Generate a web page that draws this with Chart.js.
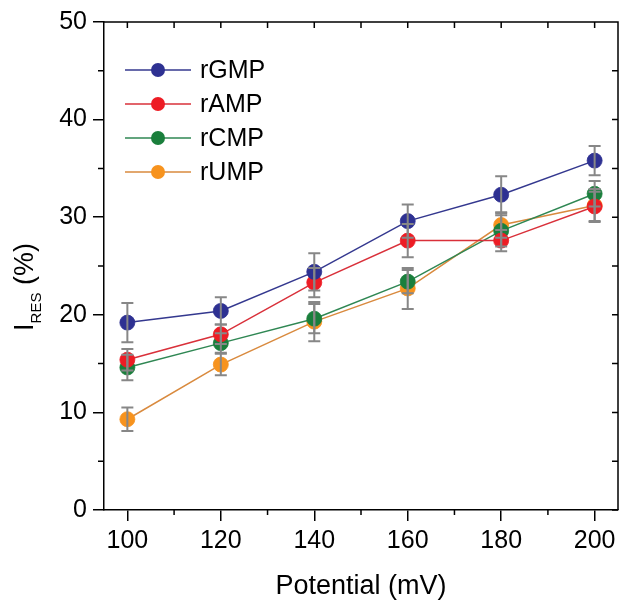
<!DOCTYPE html>
<html>
<head>
<meta charset="utf-8">
<script src="https://cdn.jsdelivr.net/npm/chart.js@4.4.1/dist/chart.umd.min.js"></script>
<style>
html, body { margin: 0; padding: 0; background: #fff; overflow: hidden; }
canvas { display: block; }
</style>
</head>
<body>
<canvas id="myChart" width="621" height="605"></canvas>
<script>
// valori
const potentials = [100, 120, 140, 160, 180, 200];
const rGMP = [19.2, 20.4, 24.4, 29.6, 32.3, 35.8];
const rGMPErr = [2.0, 1.4, 1.9, 1.7, 1.9, 1.5];
const rAMP = [15.4, 18.0, 23.3, 27.6, 27.6, 31.1];
const rAMPErr = [1.1, 1.0, 1.5, 1.7, 1.1, 1.5];
const rCMP = [14.6, 17.1, 19.6, 23.4, 28.6, 32.4];
const rCMPErr = [1.3, 1.0, 1.5, 1.2, 1.6, 1.3];
const rUMP = [9.3, 14.9, 19.3, 22.7, 29.2, 31.2];
const rUMPErr = [1.2, 1.1, 2.0, 2.1, 1.3, 1.7];

const xTicks = [100, 120, 140, 160, 180, 200];
const xMinor = [110, 130, 150, 170, 190];
const yTicks = [0, 10, 20, 30, 40, 50];
const yMinor = [5, 15, 25, 35, 45];

const FONT = 'Arial, "Liberation Sans", sans-serif';

function series(label, values, errs, color, lineColor) {
    return {
        label: label,
        data: potentials.map((x, i) => ({ x: x, y: values[i] })),
        err: errs,
        borderColor: lineColor,
        backgroundColor: color,
        borderWidth: 1.5,
        pointRadius: 7.5,
        pointHoverRadius: 7.5,
        pointBorderWidth: 0.8,
        pointBackgroundColor: color,
        pointBorderColor: color,
        fill: false,
        tension: 0
    };
}

const extras = {
    id: 'extras',
    afterDatasetsDraw(chart) {
        const ctx = chart.ctx;
        const x = chart.scales.x, y = chart.scales.y;
        const area = chart.chartArea;

        // barre di errore
        ctx.save();
        ctx.strokeStyle = '#878787';
        ctx.lineWidth = 2;
        chart.data.datasets.forEach(ds => {
            ds.data.forEach((p, i) => {
                const px = x.getPixelForValue(p.x);
                const top = y.getPixelForValue(p.y + ds.err[i]);
                const bot = y.getPixelForValue(p.y - ds.err[i]);
                ctx.beginPath();
                ctx.moveTo(px, top); ctx.lineTo(px, bot);
                ctx.moveTo(px - 6, top); ctx.lineTo(px + 6, top);
                ctx.moveTo(px - 6, bot); ctx.lineTo(px + 6, bot);
                ctx.stroke();
            });
        });
        ctx.restore();

        // cornice e tacche minori
        ctx.save();
        ctx.strokeStyle = '#000';
        ctx.lineWidth = 1.5;
        ctx.beginPath();
        ctx.moveTo(area.left, area.top); ctx.lineTo(area.right, area.top);
        ctx.lineTo(area.right, area.bottom);
        xMinor.forEach(v => {
            const px = x.getPixelForValue(v);
            ctx.moveTo(px, area.bottom); ctx.lineTo(px, area.bottom + 5);
        });
        yMinor.forEach(v => {
            const py = y.getPixelForValue(v);
            ctx.moveTo(area.left, py); ctx.lineTo(area.left - 6, py);
        });
        xTicks.concat(xMinor).forEach(v => {
            const px = x.getPixelForValue(v);
            ctx.moveTo(px, area.top); ctx.lineTo(px, area.top + 6);
        });
        yTicks.concat(yMinor).forEach(v => {
            const py = y.getPixelForValue(v);
            ctx.moveTo(area.right, py); ctx.lineTo(area.right - 6, py);
        });
        ctx.stroke();
        ctx.restore();

        // legenda
        ctx.save();
        ctx.font = '25px ' + FONT;
        ctx.textBaseline = 'middle';
        chart.data.datasets.forEach((ds, i) => {
            const ly = 70 + i * 34;
            ctx.strokeStyle = ds.borderColor;
            ctx.lineWidth = 1.5;
            ctx.beginPath();
            ctx.moveTo(125, ly); ctx.lineTo(191, ly);
            ctx.stroke();
            ctx.fillStyle = ds.backgroundColor;
            ctx.beginPath();
            ctx.arc(158, ly, 7, 0, Math.PI * 2);
            ctx.fill();
            ctx.fillStyle = '#000';
            ctx.fillText(ds.label, 200, ly + 1);
        });
        ctx.restore();

        // titolo asse y con pedice
        ctx.save();
        ctx.translate(33, 287);
        ctx.rotate(-Math.PI / 2);
        ctx.fillStyle = '#000';
        ctx.textBaseline = 'alphabetic';
        const big = '27px ' + FONT, small = '15px ' + FONT;
        ctx.font = big; const wI = ctx.measureText('I').width;
        ctx.font = small; const wS = ctx.measureText('RES').width;
        ctx.font = big; const wP = ctx.measureText(' (%)').width;
        let cx = -(wI + wS + wP) / 2;
        ctx.font = big; ctx.fillText('I', cx, 0); cx += wI;
        ctx.font = small; ctx.fillText('RES', cx, 8); cx += wS;
        ctx.font = big; ctx.fillText(' (%)', cx, 0);
        ctx.restore();
    }
};

const ctx = document.getElementById('myChart').getContext('2d');
new Chart(ctx, {
    type: 'line',
    data: {
        datasets: [
            series('rGMP', rGMP, rGMPErr, '#2e3192', '#34388f'),
            series('rAMP', rAMP, rAMPErr, '#ed1c24', '#d9303a'),
            series('rCMP', rCMP, rCMPErr, '#1a7f3c', '#2f8753'),
            series('rUMP', rUMP, rUMPErr, '#f7931e', '#d98a3e')
        ]
    },
    options: {
        responsive: false,
        animation: false,
        devicePixelRatio: 1,
        layout: { autoPadding: false, padding: { top: 22, right: 3, left: 0, bottom: 0 } },
        plugins: { legend: { display: false }, tooltip: { enabled: false } },
        scales: {
            x: {
                type: 'linear',
                min: 95,
                max: 205,
                afterBuildTicks: s => { s.ticks = xTicks.map(v => ({ value: v })); },
                afterFit: s => { s.height = 95; s.paddingLeft = 0; s.paddingRight = 0; },
                ticks: { color: '#000', font: { size: 25, family: FONT }, padding: 5, maxRotation: 0 },
                grid: { drawOnChartArea: false, tickLength: 11, color: '#000', lineWidth: 1.5 },
                border: { color: '#000', width: 1.5 },
                title: { display: true, text: 'Potential (mV)', color: '#000', font: { size: 27, family: FONT }, padding: { top: 0, bottom: 2 } }
            },
            y: {
                min: 0,
                max: 50,
                afterBuildTicks: s => { s.ticks = yTicks.map(v => ({ value: v })); },
                afterFit: s => { s.width = 104; s.paddingTop = 0; s.paddingBottom = 0; },
                ticks: { color: '#000', font: { size: 25, family: FONT }, padding: 6 },
                grid: { drawOnChartArea: false, tickLength: 11, color: '#000', lineWidth: 1.5 },
                border: { color: '#000', width: 1.5 }
            }
        }
    },
    plugins: [extras]
});
</script>
</body>
</html>
